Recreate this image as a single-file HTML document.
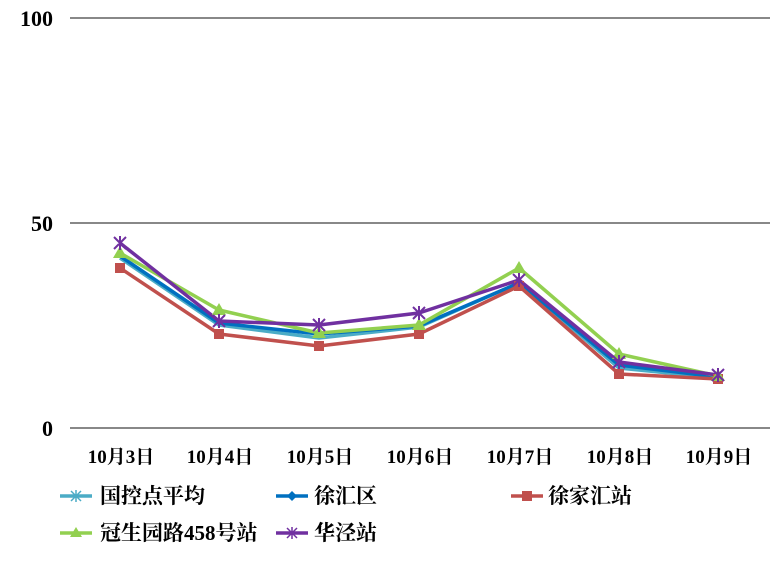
<!DOCTYPE html>
<html><head><meta charset="utf-8"><style>
body{margin:0;background:#fff}
svg text{font-family:"Liberation Serif","Noto Serif CJK SC",serif;font-weight:bold;fill:#000}
</style></head><body>
<svg width="771" height="563" viewBox="0 0 771 563" xmlns="http://www.w3.org/2000/svg">
<line x1="70" y1="18" x2="770" y2="18" stroke="#888" stroke-width="2"/>
<line x1="70" y1="223" x2="770" y2="223" stroke="#888" stroke-width="2"/>
<line x1="70" y1="428" x2="770" y2="428" stroke="#888" stroke-width="2"/>
<text x="53" y="26" font-size="22" text-anchor="end">100</text>
<text x="53" y="231" font-size="22" text-anchor="end">50</text>
<text x="53" y="436" font-size="22" text-anchor="end">0</text>
<g font-size="19" text-anchor="middle">
<text x="121" y="463">10月3日</text><text x="220" y="463">10月4日</text><text x="320" y="463">10月5日</text><text x="420" y="463">10月6日</text><text x="520" y="463">10月7日</text><text x="620" y="463">10月8日</text><text x="719" y="463">10月9日</text>
</g>
<g fill="none" stroke-width="3.5" stroke-linejoin="round">
<polyline stroke="#4bacc6" points="120,258 219,325 319,338 419,327 519,283 619,368 718,378"/>
<polyline stroke="#0070c0" points="120,256 219,323 319,334 419,326 519,283 619,365 718,377"/>
<polyline stroke="#c0504d" points="120,268 219,334 319,346 419,334 519,286 619,374 718,379"/>
<polyline stroke="#92d050" points="120,253 219,310 319,333 419,325 519,268 619,354 718,376"/>
<polyline stroke="#7030a0" points="120,243 219,321 319,325 419,313 519,280 619,362 718,375"/>
</g>
<g fill="#c0504d"><rect x="115" y="263" width="10" height="10"/><rect x="214" y="329" width="10" height="10"/><rect x="314" y="341" width="10" height="10"/><rect x="414" y="329" width="10" height="10"/><rect x="514" y="281" width="10" height="10"/><rect x="614" y="369" width="10" height="10"/><rect x="713" y="374" width="10" height="10"/></g>
<g fill="#92d050"><polygon points="120,246 127,258 113,258"/><polygon points="219,303 226,315 212,315"/><polygon points="319,326 326,338 312,338"/><polygon points="419,318 426,330 412,330"/><polygon points="519,261 526,273 512,273"/><polygon points="619,347 626,359 612,359"/><polygon points="718,369 725,381 711,381"/></g>
<g stroke="#7030a0" stroke-width="2">
<path d="M114,237l12,12M126,237l-12,12M120,236v14M213,315l12,12M225,315l-12,12M219,314v14M313,319l12,12M325,319l-12,12M319,318v14M413,307l12,12M425,307l-12,12M419,306v14M513,274l12,12M525,274l-12,12M519,273v14M613,356l12,12M625,356l-12,12M619,355v14M712,369l12,12M724,369l-12,12M718,368v14"/>
</g>
<g stroke-width="3.5">
<line x1="60" y1="496" x2="92" y2="496" stroke="#4bacc6"/>
<line x1="276" y1="496" x2="308" y2="496" stroke="#0070c0"/>
<line x1="511" y1="496" x2="543" y2="496" stroke="#c0504d"/>
<line x1="60" y1="533" x2="92" y2="533" stroke="#92d050"/>
<line x1="276" y1="533" x2="308" y2="533" stroke="#7030a0"/>
</g>
<path d="M71,491l10,10M81,491l-10,10M76,490v12" stroke="#4bacc6" stroke-width="1.5"/>
<polygon points="292,491 297,496 292,501 287,496" fill="#0070c0"/>
<rect x="522" y="491" width="10" height="10" fill="#c0504d"/>
<polygon points="76,527 82,537 70,537" fill="#92d050"/>
<path d="M287,528l10,10M297,528l-10,10M292,527v12" stroke="#7030a0" stroke-width="1.5"/>
<g font-size="21">
<text x="100" y="503">国控点平均</text>
<text x="314" y="503">徐汇区</text>
<text x="548" y="503">徐家汇站</text>
<text x="100" y="540">冠生园路458号站</text>
<text x="314" y="540">华泾站</text>
</g>
</svg>
</body></html>
